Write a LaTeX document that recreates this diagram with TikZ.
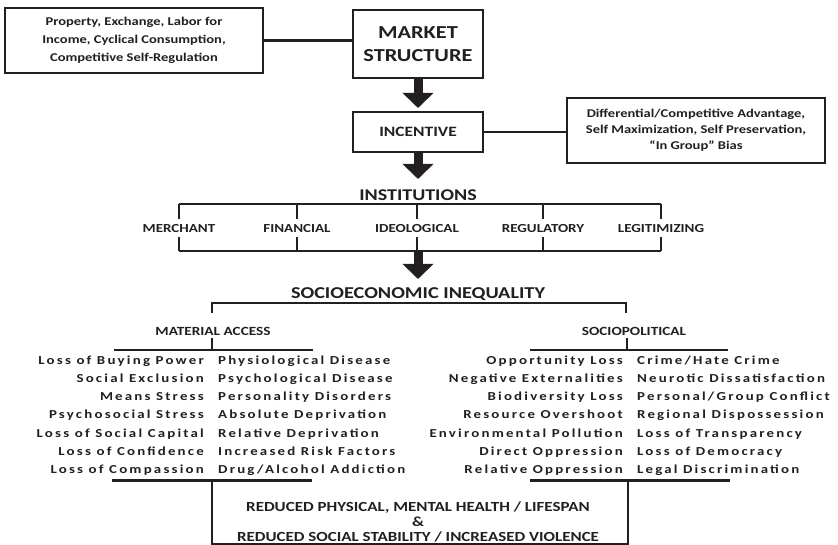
\documentclass[tikz,border=0pt]{standalone}
\usepackage{fontspec}
\setmainfont{Carlito}[FakeStretch=1.22]
\newfontfamily\listfont{Carlito}[FakeStretch=1.22, LetterSpace=18]
\usetikzlibrary{arrows.meta}
\definecolor{ink}{RGB}{35,31,32}
\begin{document}
\begin{tikzpicture}[x=1pt,y=-1pt,
  every node/.style={text=ink, inner sep=0pt},
  box/.style={draw=ink, line width=2pt, align=center, font=\fontsize{11.9}{18}\selectfont\bfseries},
  ln/.style={draw=ink, line width=2.5pt},
  bigarrow/.style={draw=ink, line width=9pt, -{Triangle[width=30pt,length=15pt]}},
  hdr/.style={font=\fontsize{16.4}{18}\selectfont\bfseries},
  inl/.style={font=\fontsize{12.3}{14}\selectfont\bfseries, fill=white, text height=9pt, text depth=0pt, minimum height=18pt},
  sub/.style={font=\fontsize{12.5}{14}\selectfont\bfseries},
  lstL/.style={font=\fontsize{12.2}{14}\listfont\bfseries, anchor=base east},
  lstR/.style={font=\fontsize{12.2}{14}\listfont\bfseries, anchor=base west}
]
\useasboundingbox (0,0) rectangle (838,545);
\fill[white] (0,0) rectangle (838,545);

% top boxes
\node[box, minimum width=258pt, minimum height=65pt] (ps) at (134,40.5)
  {Property, Exchange, Labor for\\Income, Cyclical Consumption,\\Competitive Self-Regulation};
\node[box, minimum width=130pt, minimum height=68pt, font=\fontsize{18.3}{23}\selectfont\bfseries] (ms) at (418,44) {MARKET\\STRUCTURE};
\node[box, minimum width=130pt, minimum height=40pt, font=\fontsize{14.3}{15}\selectfont\bfseries] (inc) at (418,132) {INCENTIVE};
\node[box, minimum width=258pt, minimum height=65pt, font=\fontsize{11.9}{16}\selectfont\bfseries] (rb) at (696,130.5)
  {Differential/Competitive Advantage,\\Self Maximization, Self Preservation,\\``In Group'' Bias};
\draw[ln] (ps.east) -- (ps.east -| ms.west);
\draw[ln] (inc.east) -- (inc.east -| rb.west);

\coordinate (a1e) at (418,108);
\coordinate (a2e) at (418,179);
\draw[bigarrow] (ms.south) -- (a1e);
\draw[bigarrow] (inc.south) -- (a2e);

% institutions
\node[hdr] (inst) at (418,195) {INSTITUTIONS};
\coordinate (iTL) at (179,204);
\coordinate (iTR) at (661,204);
\coordinate (iBL) at (179,251);
\coordinate (iBR) at (661,251);
\draw[ln] (iTL) -- (iTR);
\draw[ln] (iBL) -- (iBR);
\draw[ln] (iTL) -- (iBL);
\draw[ln] (iTR) -- (iBR);
\draw[ln] (297,204) -- (297,251);
\draw[ln] (417,204) -- (417,251);
\draw[ln] (543,204) -- (543,251);
\node[inl] (mer) at (179,228) {MERCHANT};
\node[inl] (fin) at (297,228) {FINANCIAL};
\node[inl] (ide) at (417,228) {IDEOLOGICAL};
\node[inl] (reg) at (543,228) {REGULATORY};
\node[inl] (leg) at (661,228) {LEGITIMIZING};

\coordinate (a3s) at (418,251);
\coordinate (a3e) at (418,279);
\draw[bigarrow] (a3s) -- (a3e);

% socioeconomic inequality
\node[hdr, font=\fontsize{16.6}{18}\selectfont\bfseries] (sei) at (418,294) {SOCIOECONOMIC INEQUALITY};
\coordinate (sL) at (212,303);
\coordinate (sR) at (626,303);
\draw[ln] (212,313) -- (sL) -- (sR) -- (626,313);
\node[sub] (ma) at (213,331) {MATERIAL ACCESS};
\node[sub] (sp) at (634,331) {SOCIOPOLITICAL};
\coordinate (mlA) at (114,350);
\coordinate (mlB) at (313,350);
\coordinate (rlA) at (530,350);
\coordinate (rlB) at (728,350);
\draw[ln] (mlA) -- (mlB);
\draw[ln] (rlA) -- (rlB);
\draw[ln] (212,338) -- (212,350);
\draw[ln] (627,338) -- (627,350);

% lists
\foreach \t [count=\i] in {Loss of Buying Power, Social Exclusion, Means Stress, Psychosocial Stress, Loss of Social Capital, Loss of Confidence, Loss of Compassion}
  \node[lstL] (la\i) at (204,{364+18.3*(\i-1)}) {\t};
\foreach \t [count=\i] in {Physiological Disease, Psychological Disease, Personality Disorders, Absolute Deprivation, Relative Deprivation, Increased Risk Factors, Drug/Alcohol Addiction}
  \node[lstR] (lb\i) at (218,{364+18.3*(\i-1)}) {\t};
\foreach \t [count=\i] in {Opportunity Loss, Negative Externalities, Biodiversity Loss, Resource Overshoot, Environmental Pollution, Direct Oppression, Relative Oppression}
  \node[lstL] (ra\i) at (623,{364+18.3*(\i-1)}) {\t};
\foreach \t [count=\i] in {Crime/Hate Crime, Neurotic Dissatisfaction, Personal/Group Conflict, Regional Dispossession, Loss of Transparency, Loss of Democracy, Legal Discrimination}
  \node[lstR] (rb\i) at (637,{364+18.3*(\i-1)}) {\t};

% bottom
\coordinate (blA) at (112,480.5);
\coordinate (blB) at (312,480.5);
\coordinate (brA) at (530,480.5);
\coordinate (brB) at (730,480.5);
\draw[ln] (blA) -- (blB);
\draw[ln] (brA) -- (brB);
\coordinate (bv1) at (212,480.5);
\coordinate (bv2) at (628,480.5);
\coordinate (bb1) at (212,544);
\coordinate (bb2) at (628,544);
\draw[ln] (bv1) -- (bb1) -- (bb2) -- (bv2);
\node[font=\fontsize{13.9}{15}\selectfont\bfseries, align=center] (out) at (418,522)
  {REDUCED PHYSICAL, MENTAL HEALTH / LIFESPAN\\\&\\REDUCED SOCIAL STABILITY / INCREASED VIOLENCE};
\end{tikzpicture}
\end{document}
